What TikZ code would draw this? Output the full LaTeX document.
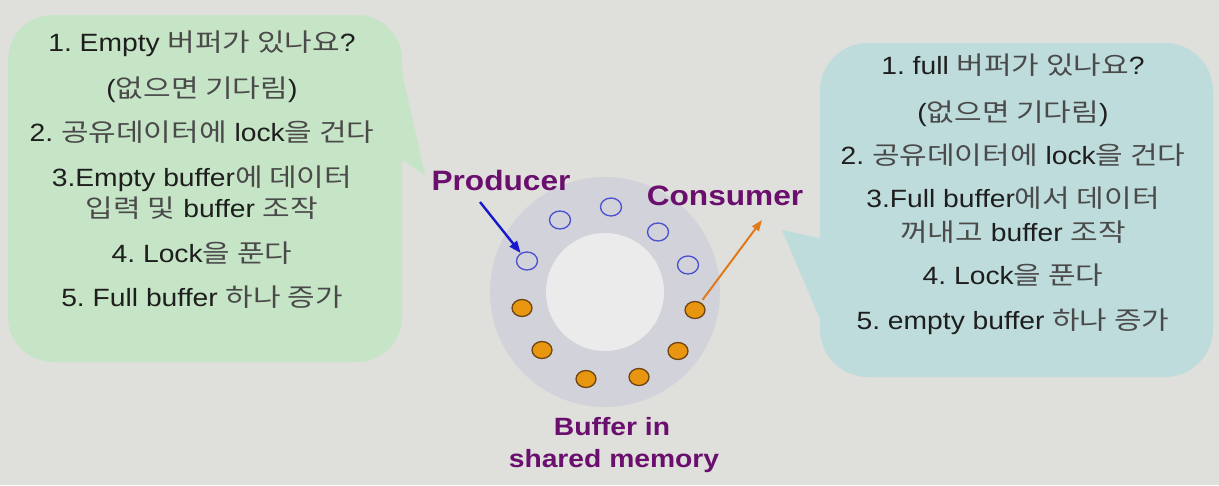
\documentclass[tikz,border=0pt]{standalone}
\usepackage{fontspec}
\setmainfont{Liberation Sans}[FakeStretch=1.13]
\newfontfamily\krfont{Noto Sans CJK KR}[FakeStretch=1.2]
\usetikzlibrary{arrows.meta,shapes.geometric}
\definecolor{bgc}{HTML}{DFDFDB}
\definecolor{greenb}{HTML}{C6E4C6}
\definecolor{tealb}{HTML}{BDDCDB}
\definecolor{ringc}{HTML}{D2D2DA}
\definecolor{innerc}{HTML}{EBEBEB}
\definecolor{maintext}{HTML}{1E1E1E}
\definecolor{krtext}{HTML}{4A4A4A}
\definecolor{purp}{HTML}{6A0F6E}
\definecolor{blueo}{HTML}{4A4FD0}
\definecolor{orangef}{HTML}{E8960F}
\definecolor{oranged}{HTML}{6E4514}
\definecolor{bluearr}{HTML}{1818CC}
\definecolor{orangearr}{HTML}{E07A1A}
\newcommand\kr[1]{{\krfont\color{krtext}#1}}
\frenchspacing
\begin{document}
\begin{tikzpicture}[x=1pt,y=-1pt,
  txt/.style={anchor=base,inner sep=0pt,text=maintext,font=\fontsize{25}{30}\selectfont},
  lbl/.style={anchor=base,inner sep=0pt,text=purp,font=\fontsize{28}{32}\selectfont\bfseries},
  blbl/.style={anchor=base,inner sep=0pt,text=purp,font=\fontsize{25}{30}\selectfont\bfseries},
  bubble/.style={draw=none,rectangle,inner sep=0pt},
  emptyslot/.style={ellipse,draw=blueo,line width=1.3pt,fill=none,minimum width=21pt,minimum height=18pt,inner sep=0pt},
  fullslot/.style={ellipse,draw=oranged,line width=1.3pt,fill=orangef,minimum width=20pt,minimum height=17pt,inner sep=0pt}
]
\fill[bgc] (0,0) rectangle (1219,485);
\useasboundingbox (0,0) rectangle (1219,485);

% left bubble
\node[bubble,fill=greenb,rounded corners=45pt,minimum width=394pt,minimum height=347pt] (lb) at (205,188.5) {};
\fill[greenb] (398,55) -- (425,175) -- (395,155) -- cycle;
% right bubble
\node[bubble,fill=tealb,rounded corners=48pt,minimum width=393pt,minimum height=334pt] (rb) at (1016.5,210) {};
\fill[tealb] (830,240.5) -- (782,230) -- (828,338) -- cycle;

% left text
\node[txt] (l1) at (202,51) {1. Empty \kr{버퍼가 있나요}?};
\node[txt] (l2) at (202,97) {(\kr{없으면 기다림})};
\node[txt] (l3) at (202,141) {2. \kr{공유데이터에} lock\kr{을 건다}};
\node[txt] (l4) at (202,186) {3.Empty buffer\kr{에 데이터}};
\node[txt] (l5) at (202,217) {\kr{입력 및} buffer \kr{조작}};
\node[txt] (l6) at (202,262) {4. Lock\kr{을 푼다}};
\node[txt] (l7) at (202,306) {5. Full buffer \kr{하나 증가}};

% right text
\node[txt] (r1) at (1013,74) {1. full \kr{버퍼가 있나요}?};
\node[txt] (r2) at (1013,121) {(\kr{없으면 기다림})};
\node[txt] (r3) at (1013,164) {2. \kr{공유데이터에} lock\kr{을 건다}};
\node[txt] (r4) at (1013,207) {3.Full buffer\kr{에서 데이터}};
\node[txt] (r5) at (1013,241) {\kr{꺼내고} buffer \kr{조작}};
\node[txt] (r6) at (1013,284) {4. Lock\kr{을 푼다}};
\node[txt] (r7) at (1013,329) {5. empty buffer \kr{하나 증가}};

% ring buffer
\node[circle,fill=ringc,minimum size=230pt,inner sep=0pt] (ring) at (605,292) {};
\node[circle,fill=innerc,minimum size=118pt,inner sep=0pt] (hole) at (605,292) {};

\node[emptyslot] (b1) at (527,261) {};
\node[emptyslot] (b2) at (560,220) {};
\node[emptyslot] (b3) at (611,207) {};
\node[emptyslot] (b4) at (658,232) {};
\node[emptyslot] (b5) at (688,265) {};
\node[fullslot] (o1) at (695,310) {};
\node[fullslot] (o2) at (678,351) {};
\node[fullslot] (o3) at (639,377) {};
\node[fullslot] (o4) at (586,379) {};
\node[fullslot] (o5) at (542,350) {};
\node[fullslot] (o6) at (522,308) {};

% labels
\node[lbl] (prod) at (501,190) {Producer};
\node[lbl] (cons) at (725,205) {Consumer};
\node[blbl] (buf1) at (612,435) {Buffer in};
\node[blbl] (buf2) at (614,467) {shared memory};

% arrows
\coordinate (pstart) at (480,202);
\coordinate (cend) at (762,220);
\draw[bluearr,line width=2.4pt,-{Triangle[length=12pt,width=9pt]}] (pstart) -- (b1);
\draw[orangearr,line width=2pt,-{Triangle[length=11pt,width=8pt]},shorten <=3pt] (o1) -- (cend);
\end{tikzpicture}
\end{document}
